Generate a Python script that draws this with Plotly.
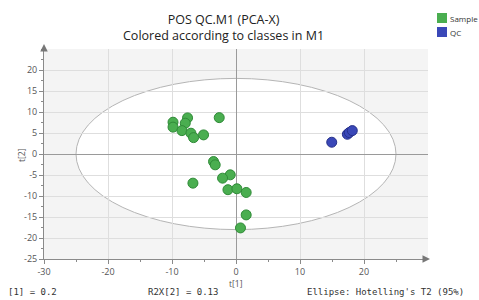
import plotly.graph_objects as go

sample_x = [-9.84, -9.84, -7.57, -7.93, -8.45, -7.04, -6.63, -5.07, -2.62, -3.51, -3.25, -0.9, -2.1, -6.73, -1.26, 0.14, 1.59, 1.59, 0.7]
sample_y = [7.57, 6.4, 8.6, 7.33, 5.57, 4.95, 3.9, 4.55, 8.66, -1.8, -2.58, -4.96, -5.75, -6.94, -8.5, -8.28, -9.16, -14.5, -17.6]
qc_x = [14.96, 17.4, 17.7, 18.17]
qc_y = [2.8, 4.7, 5.1, 5.57]
ellipse_a = 25.0
ellipse_b = 18.0
x_ticks = [-30, -20, -10, 0, 10, 20]
y_ticks = [-25, -20, -15, -10, -5, 0, 5, 10, 15, 20]

W, H = 479, 300
L, R, T, B = 44, 51, 49, 41
pw, ph = W - L - R, H - T - B

def px(x):
    return (x - L) / pw

def py(y):
    return (H - B - y) / ph

green, green_edge = "#4aae50", "#2f8a37"
blue, blue_edge = "#3a48b8", "#27318a"

fig = go.Figure()
fig.add_trace(go.Scatter(x=sample_x, y=sample_y, mode="markers", name="Sample",
                         marker=dict(size=10, color=green, line=dict(color=green_edge, width=1))))
fig.add_trace(go.Scatter(x=qc_x, y=qc_y, mode="markers", name="QC",
                         marker=dict(size=10, color=blue, line=dict(color=blue_edge, width=1))))

fig.add_shape(type="circle", xref="x", yref="y", x0=-ellipse_a, x1=ellipse_a, y0=-ellipse_b, y1=ellipse_b,
              fillcolor="white", line=dict(color="#b5b5b5", width=1), layer="below")

axis_common = dict(showline=True, linecolor="#8a8a8a", linewidth=1, ticks="outside", ticklen=4,
                   tickcolor="#8a8a8a", tickfont=dict(family="Open Sans", size=9, color="#555"),
                   gridcolor="#dedede", gridwidth=1, zeroline=True, zerolinecolor="#9a9a9a",
                   zerolinewidth=1.2, automargin=False)

fig.update_xaxes(range=[-30, 30], tickvals=x_ticks, ticktext=[str(v) for v in x_ticks], **axis_common,
                 minor=dict(tickvals=[-25, -15, -5, 5, 15, 25], ticks="outside", ticklen=2,
                            tickcolor="#8a8a8a", showgrid=False))
fig.update_yaxes(range=[-25, 25], tickvals=y_ticks, ticktext=[str(v) for v in y_ticks], **axis_common,
                 minor=dict(dtick=2.5, tick0=0, ticks="outside", ticklen=2, tickcolor="#8a8a8a", showgrid=False))

fig.update_layout(
    width=W, height=H,
    margin=dict(l=L, r=R, t=T, b=B, autoexpand=False),
    plot_bgcolor="#f4f4f4", paper_bgcolor="white",
    showlegend=False,
)

ann_font = dict(family="Open Sans", size=12.5, color="#222")
fig.add_annotation(text="POS QC.M1 (PCA-X)<br>Colored according to classes in M1", x=px(223), y=py(27.5),
                   xref="paper", yref="paper", showarrow=False, xanchor="center", yanchor="middle",
                   font=ann_font, align="center")

# axis titles
lab_font = dict(family="Open Sans", size=8.5, color="#555")
fig.add_annotation(text="t[1]", x=px(236), y=py(283), xref="paper", yref="paper", showarrow=False,
                   xanchor="center", yanchor="middle", font=lab_font)
fig.add_annotation(text="t[2]", x=px(21), y=py(155), xref="paper", yref="paper", showarrow=False,
                   xanchor="center", yanchor="middle", font=lab_font, textangle=-90)

# axis arrows
fig.add_annotation(x=0, y=py(44), xref="paper", yref="paper", ax=0, ay=8, axref="pixel", ayref="pixel",
                   showarrow=True, arrowhead=2, arrowsize=1, arrowwidth=1.5, arrowcolor="#777", text="")
fig.add_annotation(x=px(430), y=0, xref="paper", yref="paper", ax=-8, ay=0, axref="pixel", ayref="pixel",
                   showarrow=True, arrowhead=2, arrowsize=1, arrowwidth=1.5, arrowcolor="#777", text="")

# legend drawn manually
leg = [("Sample", green, 18), ("QC", blue, 32)]
for name, col, yc in leg:
    fig.add_shape(type="rect", xref="paper", yref="paper", x0=px(437), x1=px(447), y0=py(yc + 5), y1=py(yc - 5),
                  fillcolor=col, line=dict(width=0))
    fig.add_annotation(text=name, x=px(448), y=py(yc), xref="paper", yref="paper", showarrow=False,
                       xanchor="left", yanchor="middle", font=dict(family="Open Sans", size=8, color="#333"))

mono = dict(family="DejaVu Sans Mono", size=9, color="#333")
for txt, xl in [("[1] = 0.2", 6), ("R2X[2] = 0.13", 146), ("Ellipse: Hotelling's T2 (95%)", 305)]:
    fig.add_annotation(text=txt, x=px(xl), y=py(292), xref="paper", yref="paper", showarrow=False,
                       xanchor="left", yanchor="middle", font=mono)

fig.write_html("out.html", config={"displayModeBar": False},
               post_script="document.body.style.margin='0';")
